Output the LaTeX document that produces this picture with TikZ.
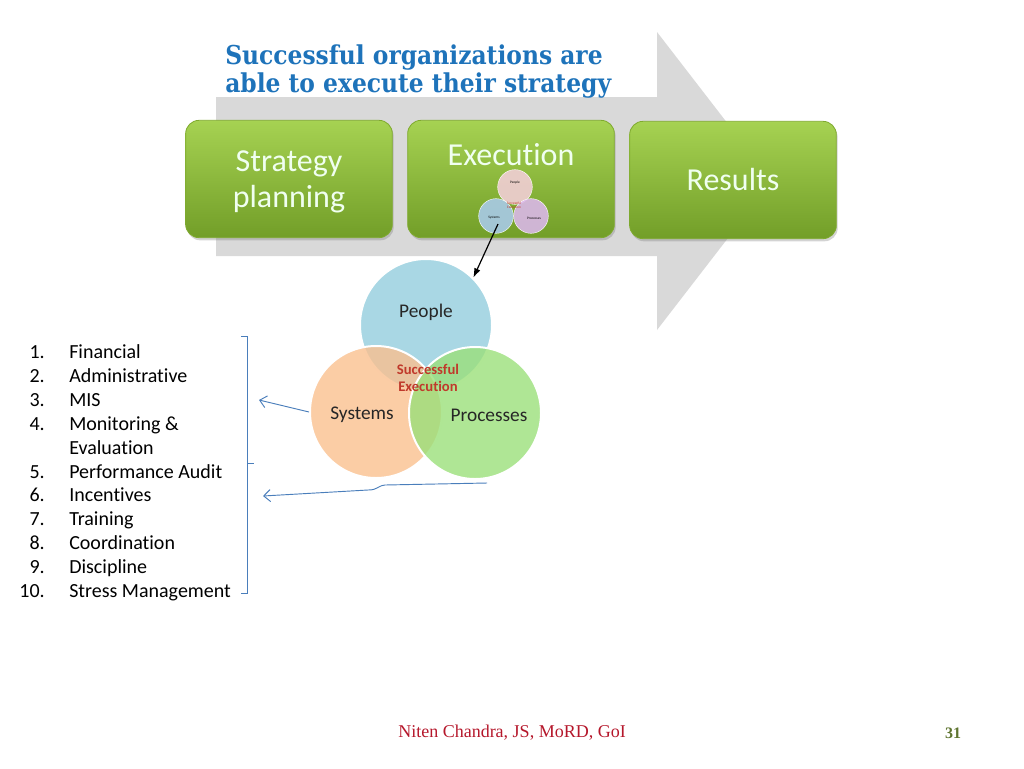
\documentclass[tikz,border=0pt]{standalone}
\usepackage{fontspec}
\setmainfont{Carlito}[Ligatures=NoCommon]
\newfontfamily\titlefont{DejaVu Serif Condensed}
\newfontfamily\footfont{Liberation Serif}
\usetikzlibrary{arrows.meta,shadows}

\definecolor{titleblue}{HTML}{1E73BA}
\definecolor{arrowgray}{HTML}{D9D9D9}
\definecolor{boxtop}{HTML}{A6D252}
\definecolor{boxmid}{HTML}{8EBE3A}
\definecolor{boxbottom}{HTML}{729E28}
\definecolor{boxedge}{HTML}{7FAA2E}
\definecolor{peoplecol}{HTML}{93CDDD}
\definecolor{systemscol}{HTML}{FAC08F}
\definecolor{processcol}{HTML}{9BE07A}
\definecolor{smallpeople}{HTML}{F4CFD9}
\definecolor{smallsystems}{HTML}{A9CBEC}
\definecolor{smallprocess}{HTML}{DCB8EC}
\definecolor{succred}{HTML}{C0392B}
\definecolor{linkblue}{HTML}{4A7EBB}
\definecolor{footred}{HTML}{B5172B}
\definecolor{pagegreen}{HTML}{5F7530}

\begin{document}
\begin{tikzpicture}[x=0.75pt,y=-0.75pt]
  \tikzset{
    greenbox/.style={rounded corners=10pt, minimum width=155pt, minimum height=88pt,
      top color=boxtop, middle color=boxmid, bottom color=boxbottom, draw=boxedge, line width=0.6pt,
      drop shadow={opacity=0.35, shadow xshift=1pt, shadow yshift=-2pt}},
    boxtext/.style={text=white!94!green, font=\fontsize{24}{26.5}\selectfont, align=center},
    smallvenn/.style={circle, minimum size=26pt, inner sep=0pt, fill opacity=0.88, draw=white, line width=0.3pt},
    tinytext/.style={font=\fontsize{2.6}{3}\selectfont, align=center},
    bigvenn/.style={circle, minimum size=99pt, inner sep=0pt, draw=white, line width=1.5pt, fill opacity=0.8},
    venntext/.style={font=\fontsize{14.5}{16}\selectfont, text=black!85},
    bluelink/.style={draw=linkblue, line width=0.7pt, -{Straight Barb[length=5pt,width=9pt]}},
    listtext/.style={font=\fontsize{15}{18}\selectfont, anchor=base west, inner sep=0pt},
    listnum/.style={font=\fontsize{15}{18}\selectfont, anchor=base east, inner sep=0pt}
  }
  \useasboundingbox (0,0) rectangle (1024,768);

  % big gray arrow behind the boxes
  \fill[arrowgray] (216,97) -- (657,97) -- (657,32) -- (772,181) -- (657,330)
    -- (657,256) -- (216,256) -- cycle;

  % title
  \node[anchor=base west, inner sep=0pt, text=titleblue, align=left,
    font=\titlefont\bfseries\fontsize{19.5}{20.3}\selectfont] (title) at (225,92)
    {Successful organizations are\\able to execute their strategy};

  % the three stages
  \node[greenbox] (plan) at (289,179) {};
  \node[boxtext] (planlbl) at (289,182) {Strategy\\planning};
  \node[greenbox] (exec) at (511,179) {};
  \node[boxtext] (execlbl) at (511,155) {Execution};
  \node[greenbox, boxtext] (results) at (733,180) {Results};

  % small venn inside execution
  \node[smallvenn, fill=smallpeople] (speople) at (515,187) {};
  \node[smallvenn, fill=smallsystems] (ssystems) at (496,216) {};
  \node[smallvenn, fill=smallprocess] (sprocess) at (531,216) {};
  \node[tinytext] (speoplelbl) at (515,183) {People};
  \node[tinytext] (ssystemslbl) at (494,218) {Systems};
  \node[tinytext] (sprocesslbl) at (534,218) {Processes};
  \node[tinytext, text=succred] (ssucclbl) at (514,205) {Successful\\Execution};

  % big venn
  \node[bigvenn, fill=peoplecol] (people) at (426,325) {};
  \node[bigvenn, fill=systemscol] (systems) at (376,412) {};
  \node[bigvenn, fill=processcol] (process) at (475,413) {};
  \node[venntext] (peoplelbl) at (426,312) {People};
  \node[venntext] (systemslbl) at (362,415) {Systems};
  \node[venntext] (processlbl) at (489,415) {Processes};
  \node[align=center, text=succred, font=\bfseries\fontsize{11}{12.5}\selectfont] (succlbl)
    at (428,378) {Successful\\Execution};

  \coordinate (zoomfrom) at (498,224);
  \draw[-{Latex[length=7pt,width=5pt]}, line width=0.9pt] (zoomfrom) -- (people.north east);

  % bracket round the list
  \coordinate (brtop) at (247,336);
  \coordinate (brbot) at (247,593);
  \draw[linkblue, line width=0.7pt] ([xshift=-4.5pt]brtop) -- (brtop) -- (brbot) -- ([xshift=-4.5pt]brbot);
  \draw[linkblue, line width=0.7pt] (247,463) -- (254,463);

  \coordinate (listtop) at (259,400);
  \coordinate (listlow) at (263,496);
  \coordinate (procout) at (487,483);
  \draw[bluelink] (systems.west) -- (listtop);
  \draw[bluelink] (procout) -- (385,485) .. controls (377,486) and (378,490) .. (368,490) -- (listlow);

  % list of systems
  \foreach \n/\y/\item in {1./358/Financial, 2./382/Administrative, 3./406/MIS,
      4./430/Monitoring \&, /454/Evaluation, 5./478/Performance Audit, 6./501/Incentives,
      7./525/Training, 8./549/Coordination, 9./573/Discipline, 10./597/Stress Management}
  {
    \node[listnum] at (45,\y) {\n};
    \node[listtext] at (69,\y) {\item};
  }

  % footer
  \node[text=footred, font=\footfont\fontsize{13.5}{16}\selectfont] (footer) at (512,733)
    {Niten Chandra, JS, MoRD, GoI};
  \node[text=pagegreen, font=\footfont\bfseries\fontsize{12}{14}\selectfont] (pageno) at (953,733) {31};
\end{tikzpicture}
\end{document}
